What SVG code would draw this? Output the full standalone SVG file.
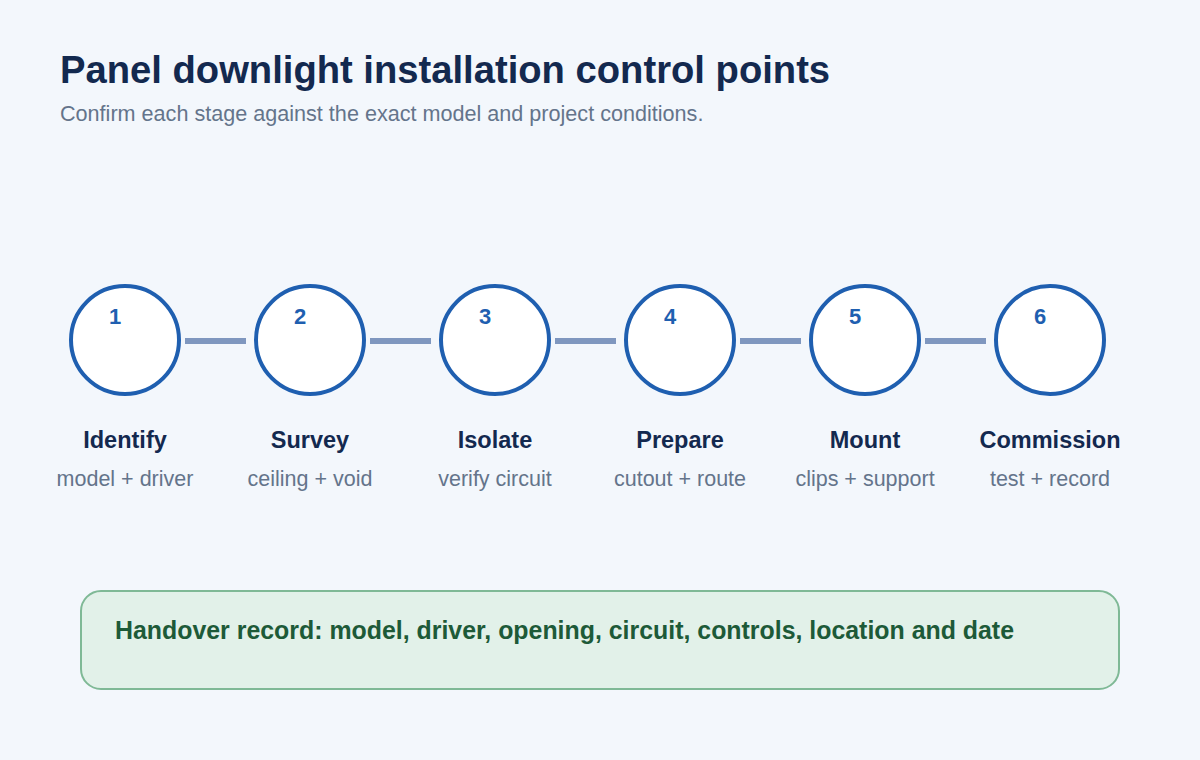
<svg xmlns="http://www.w3.org/2000/svg" width="1200" height="760" viewBox="0 0 1200 760">
<style>
.c{fill:#fff;stroke:#1f5fb0;stroke-width:4}
.n{font:bold 22px "Liberation Sans",Arial,sans-serif;fill:#1f5fb0;text-anchor:middle}
.t{font:bold 23.5px "Liberation Sans",Arial,sans-serif;fill:#13294f;text-anchor:middle}
.s{font:21.5px "Liberation Sans",Arial,sans-serif;fill:#64748b;text-anchor:middle}
.l{stroke:#7f97bf;stroke-width:6}
</style>
<rect width="1200" height="760" fill="#f3f7fc"/>
<text x="60" y="83" style="font:bold 38.2px 'Liberation Sans',Arial,sans-serif;fill:#13294f">Panel downlight installation control points</text>
<text x="60" y="121" style="font:21.6px 'Liberation Sans',Arial,sans-serif;fill:#64748b">Confirm each stage against the exact model and project conditions.</text>
<g id="connectors">
<line class="l" x1="185" y1="341" x2="246" y2="341"/>
<line class="l" x1="370" y1="341" x2="431" y2="341"/>
<line class="l" x1="555" y1="341" x2="616" y2="341"/>
<line class="l" x1="740" y1="341" x2="801" y2="341"/>
<line class="l" x1="925" y1="341" x2="986" y2="341"/>
</g>
<g id="n1"><circle class="c" cx="125" cy="340" r="54"/><text class="n" x="115" y="324">1</text><text class="t" x="125" y="448">Identify</text><text class="s" x="125" y="486">model + driver</text></g>
<g id="n2"><circle class="c" cx="310" cy="340" r="54"/><text class="n" x="300" y="324">2</text><text class="t" x="310" y="448">Survey</text><text class="s" x="310" y="486">ceiling + void</text></g>
<g id="n3"><circle class="c" cx="495" cy="340" r="54"/><text class="n" x="485" y="324">3</text><text class="t" x="495" y="448">Isolate</text><text class="s" x="495" y="486">verify circuit</text></g>
<g id="n4"><circle class="c" cx="680" cy="340" r="54"/><text class="n" x="670" y="324">4</text><text class="t" x="680" y="448">Prepare</text><text class="s" x="680" y="486">cutout + route</text></g>
<g id="n5"><circle class="c" cx="865" cy="340" r="54"/><text class="n" x="855" y="324">5</text><text class="t" x="865" y="448">Mount</text><text class="s" x="865" y="486">clips + support</text></g>
<g id="n6"><circle class="c" cx="1050" cy="340" r="54"/><text class="n" x="1040" y="324">6</text><text class="t" x="1050" y="448">Commission</text><text class="s" x="1050" y="486">test + record</text></g>
<g id="handover"><rect x="81" y="591" width="1038" height="98" rx="20" fill="#e2f1e9" stroke="#7fb996" stroke-width="2"/>
<text x="115" y="639" style="font:bold 24.9px 'Liberation Sans',Arial,sans-serif;fill:#1d5a38">Handover record: model, driver, opening, circuit, controls, location and date</text></g>
</svg>
